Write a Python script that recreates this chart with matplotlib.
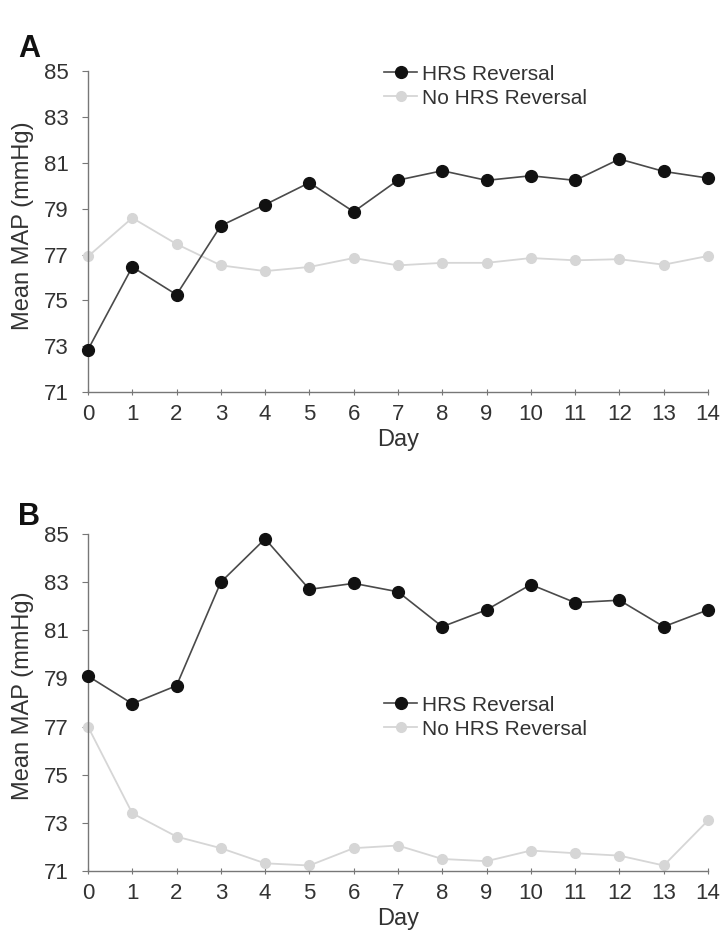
import matplotlib.pyplot as plt
import numpy as np

plt.rcParams['font.family'] = ['Liberation Sans', 'DejaVu Sans']

days = list(range(15))
hrs_a = [72.85, 76.46, 75.25, 78.26, 79.18, 80.14, 78.87, 80.25, 80.66, 80.24,
         80.44, 80.24, 81.17, 80.63, 80.34]
nohrs_a = [76.92, 78.6, 77.46, 76.53, 76.28, 76.46, 76.85, 76.53, 76.64, 76.64,
           76.85, 76.75, 76.8, 76.56, 76.94]
hrs_b = [79.1, 77.95, 78.7, 83.0, 84.8, 82.7, 82.95, 82.6, 81.15, 81.85,
         82.9, 82.15, 82.25, 81.15, 81.85]
nohrs_b = [77.0, 73.4, 72.43, 71.95, 71.32, 71.23, 71.95, 72.06, 71.5, 71.41,
           71.85, 71.74, 71.64, 71.23, 73.1]
yticks = [71, 73, 75, 77, 79, 81, 83, 85]
labels = ['HRS Reversal', 'No HRS Reversal']

fig = plt.figure(figsize=(7.21, 9.38), dpi=100)
axA = fig.add_axes([0.122, 0.582, 0.860, 0.342])
axB = fig.add_axes([0.122, 0.0714, 0.860, 0.3593])

def draw(ax, hrs, nohrs, legy):
    ax.plot(days, nohrs, color='#d6d6d6', lw=1.3, marker='o', ms=7,
            mfc='#d6d6d6', mec='#d6d6d6', label=labels[1], clip_on=False, zorder=2)
    ax.plot(days, hrs, color='#4a4a4a', lw=1.2, marker='o', ms=8.5,
            mfc='#111111', mec='#111111', label=labels[0], clip_on=False, zorder=3)
    ax.set_xlim(0, 14)
    ax.set_ylim(71, 85)
    ax.set_xticks(days)
    ax.set_yticks(yticks)
    for s in ['top', 'right']:
        ax.spines[s].set_visible(False)
    for s in ['left', 'bottom']:
        ax.spines[s].set_color('#777777')
        ax.spines[s].set_linewidth(1.0)
    ax.tick_params(axis='both', colors='#777777', labelcolor='#333333',
                   labelsize=16, width=0.8)
    ax.tick_params(axis='x', direction='inout', length=5, pad=6)
    ax.tick_params(axis='y', direction='out', length=4, pad=10)
    ax.set_xlabel('Day', fontsize=17, color='#333333', labelpad=3)
    ax.set_ylabel('Mean MAP (mmHg)', fontsize=17, color='#333333')
    ax.yaxis.set_label_coords(-0.087, 0.52)
    h, l = ax.get_legend_handles_labels()
    ax.legend(h[::-1], l[::-1], loc='upper left', bbox_to_anchor=(0.5326, legy),
              bbox_transform=fig.transFigure, borderpad=0, borderaxespad=0,
              frameon=False, fontsize=15, handlelength=1.6, handletextpad=0.2,
              labelspacing=0.25, labelcolor='#333333')

draw(axA, hrs_a, nohrs_a, 0.9312)
draw(axB, hrs_b, nohrs_b, 0.2585)

fig.text(0.025, 0.948, 'A', fontsize=22, fontweight='bold', color='#111111', va='center')
fig.text(0.025, 0.449, 'B', fontsize=22, fontweight='bold', color='#111111', va='center')

fig.savefig('out.png', dpi=100)
